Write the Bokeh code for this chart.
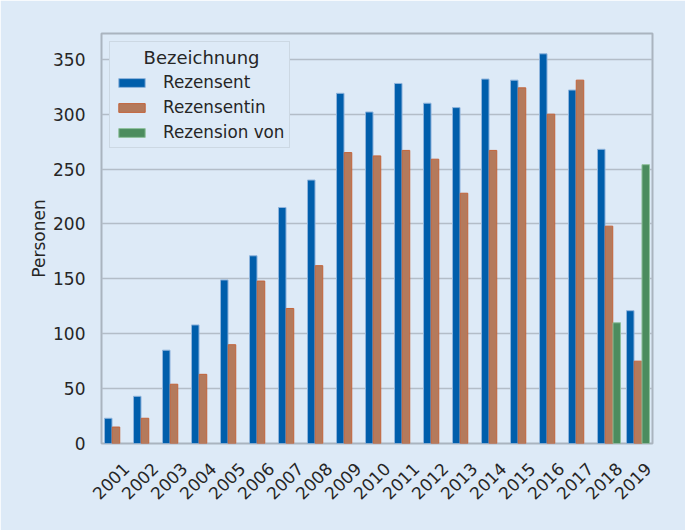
from bokeh.plotting import figure
from bokeh.models import (ColumnDataSource, Legend, LegendItem, Range1d, FixedTicker)
from bokeh.transform import dodge
from bokeh.embed import file_html
from bokeh.resources import INLINE
import math

years = ["2001", "2002", "2003", "2004", "2005", "2006", "2007", "2008", "2009", "2010",
         "2011", "2012", "2013", "2014", "2015", "2016", "2017", "2018", "2019"]
rezensent = [23, 43, 85, 108, 149, 171, 215, 240, 319, 302,
             328, 310, 306, 332, 331, 355, 322, 268, 121]
rezensentin = [15, 23, 54, 63, 90, 148, 123, 162, 265, 262,
               267, 259, 228, 267, 324, 300, 331, 198, 75]
rezension_von_years = ["2018", "2019"]
rezension_von = [110, 254]

series_names = ["Rezensent", "Rezensentin", "Rezension von"]
y_ticks = [0, 50, 100, 150, 200, 250, 300, 350]

BG = "#ddeaf7"
FONT = "DejaVu Sans"
TXT = "#262626"

# categorical positions: index of each year (0..n-1)
pos = {y: i for i, y in enumerate(years)}
n = len(years)

p = figure(x_range=Range1d(-0.5, n - 0.5), y_range=(0, 373.5),
           width=685, height=530, output_backend="svg", toolbar_location=None,
           min_border_left=101, min_border_right=33, min_border_top=33, min_border_bottom=87)
p.background_fill_color = BG
p.border_fill_color = BG
p.outline_line_color = "#aab4bf"
p.outline_line_width = 2

w = 0.8 / 3
src1 = ColumnDataSource(dict(x=[pos[y] for y in years], v=rezensent))
src2 = ColumnDataSource(dict(x=[pos[y] for y in years], v=rezensentin))
src3 = ColumnDataSource(dict(x=[pos[y] for y in rezension_von_years], v=rezension_von))

r1 = p.vbar(x=dodge("x", -w), top="v", width=w * 0.97, source=src1,
            fill_color="#005eab", line_color="#8fb4dc", line_width=1)
r2 = p.vbar(x=dodge("x", 0), top="v", width=w * 0.97, source=src2,
            fill_color="#b47a5c", line_color="#c2633a", line_width=1)
r3 = p.vbar(x=dodge("x", w), top="v", width=w * 0.97, source=src3,
            fill_color="#4b8c5e", line_color="#8fc09c", line_width=1)

p.xgrid.grid_line_color = None
p.ygrid.grid_line_color = "#b3bdc8"
p.ygrid.grid_line_width = 1.6
p.yaxis.ticker = y_ticks

# tick labels sit slightly right of each group centre so the rotated text is centred under it
shift = 0.345
p.xaxis.ticker = FixedTicker(ticks=[pos[y] + shift for y in years])
p.xaxis.major_label_overrides = {pos[y] + shift: y for y in years}

for ax in (p.xaxis[0], p.yaxis[0]):
    ax.axis_line_color = None
    ax.major_tick_line_color = None
    ax.minor_tick_line_color = None
    ax.major_label_text_font = FONT
    ax.major_label_text_font_size = "17px"
    ax.major_label_text_color = TXT
    ax.axis_label_text_font = FONT
    ax.axis_label_text_font_size = "17px"
    ax.axis_label_text_color = TXT
    ax.axis_label_text_font_style = "normal"

p.yaxis.axis_label = "Personen"
p.yaxis.major_label_standoff = 10
p.yaxis.axis_label_standoff = 1
p.xaxis.major_label_orientation = math.pi / 4
p.xaxis.major_label_standoff = 16

legend = Legend(items=[LegendItem(label=series_names[0], renderers=[r1]),
                       LegendItem(label=series_names[1], renderers=[r2]),
                       LegendItem(label=series_names[2], renderers=[r3])],
                location="top_left", margin=8,
                title="\u00a0\u00a0\u00a0\u00a0\u00a0Bezeichnung",
                title_text_font=FONT, title_text_font_size="18px", title_text_color=TXT,
                title_text_font_style="normal", title_standoff=4,
                label_text_font=FONT, label_text_font_size="16.8px", label_text_color=TXT,
                glyph_width=33, glyph_height=11, label_standoff=15, label_height=20, spacing=5,
                padding=5, background_fill_color=BG, background_fill_alpha=1,
                border_line_color="#bcc5cf", border_line_width=1.5)
p.add_layout(legend)

html = file_html(p, INLINE)
html = html.replace("<body>", '<body style="background:%s;">' % BG, 1)
open("out.html", "w").write(html)
